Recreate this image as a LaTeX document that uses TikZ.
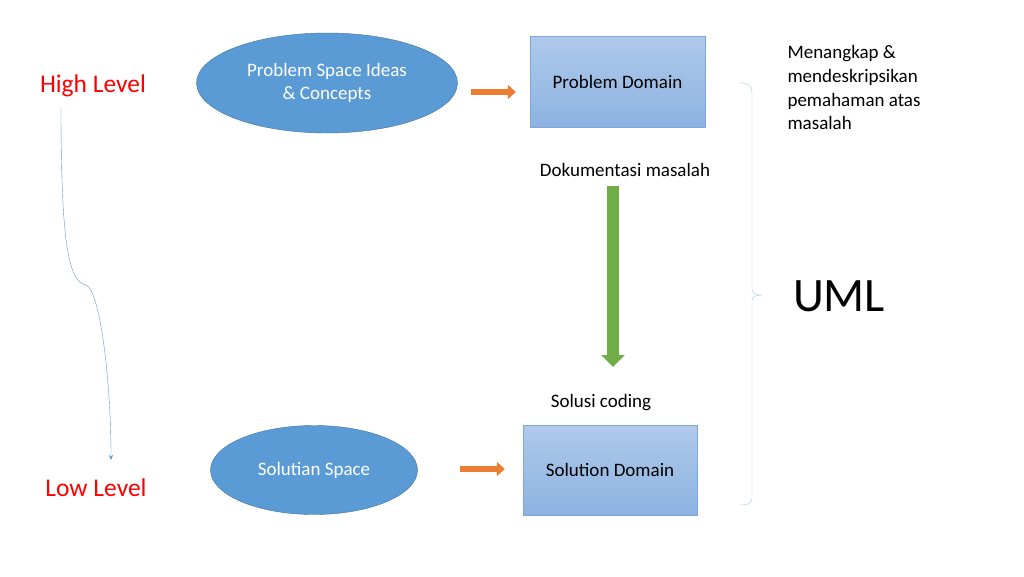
\documentclass[tikz,border=0pt]{standalone}
\usepackage{fontspec}
\setmainfont{Carlito}
\usetikzlibrary{arrows.meta,shapes.geometric}
\definecolor{ellfill}{HTML}{5B9BD5}
\definecolor{elldraw}{HTML}{41719C}
\definecolor{boxtop}{HTML}{AFC9EA}
\definecolor{boxbot}{HTML}{8DB3E2}
\definecolor{boxdraw}{HTML}{7EA6D8}
\definecolor{orangearr}{HTML}{ED7D31}
\definecolor{greenarr}{HTML}{70AD47}
\definecolor{bracecol}{HTML}{A9C7E8}
\definecolor{curvecol}{HTML}{5B9BD5}
\tikzset{
  spaceell/.style={ellipse, draw=elldraw, fill=ellfill, text=white, inner sep=0pt, font=\fontsize{19}{23}\selectfont, align=center},
  domainbox/.style={rectangle, draw=boxdraw, top color=boxtop, bottom color=boxbot, inner sep=0pt, font=\fontsize{19}{23}\selectfont},
  plaintext/.style={font=\fontsize{19}{23}\selectfont, align=left},
  leveltext/.style={text=red, font=\fontsize{25.5}{30}\selectfont},
  orangefat/.style={draw=orangearr, line width=6pt, -{Triangle[length=8pt,width=14pt]}},
  greenfat/.style={draw=greenarr, line width=12pt, -{Triangle[length=12pt,width=23pt]}}
}
\begin{document}
\begin{tikzpicture}[x=1pt,y=-1pt]
        \useasboundingbox (0,0) rectangle (1024,576);
        % left side
        \node[leveltext] (high) at (93,86) {High Level};
        \node[leveltext] (low) at (96,488) {Low Level};
        \coordinate (curveTop) at (61,107);
        \coordinate (curveEnd) at (111,460);
        \draw[curvecol, thin, -{Stealth[length=5pt,width=4pt]}] (curveTop) .. controls (61,240) and (68,282) .. (86,285) .. controls (100,290) and (111,380) .. (curveEnd);
        % problem row
        \node[spaceell, minimum width=261pt, minimum height=100pt] (probSpace) at (327,83) {Problem Space Ideas\\\& Concepts};
        \node[domainbox, minimum width=175pt, minimum height=91pt] (probDomain) at (617.5,81.5) {Problem Domain};
        \draw[orangefat, shorten <=13pt, shorten >=14pt] ([yshift=-9pt]probSpace.east) -- ([yshift=-10.5pt]probDomain.west);
        % solution row
        \node[spaceell, minimum width=207pt, minimum height=89pt] (solSpace) at (314,470) {Solutian Space};
        \node[domainbox, minimum width=174pt, minimum height=90pt] (solDomain) at (610,470) {Solution Domain};
        \draw[orangefat, shorten <=42pt, shorten >=18pt] ([yshift=1pt]solSpace.east) -- ([yshift=1pt]solDomain.west);
        % middle labels and green arrow
        \node[plaintext] (docText) at (625,170) {Dokumentasi masalah};
        \node[plaintext] (codText) at (601,403) {Solusi coding};
        \coordinate (greenTop) at (613,186);
        \coordinate (greenEnd) at (613,367);
        \draw[greenfat] (greenTop) -- (greenEnd);
        % brace and UML
        \draw[bracecol, thin] (740,83) .. controls (748,83) and (752,86) .. (752,92) -- (752,289) .. controls (752,293) and (755,295) .. (762,295) .. controls (755,295) and (752,297) .. (752,301) -- (752,498) .. controls (752,503) and (748,505) .. (740,505);
        \node[plaintext, anchor=north west, font=\fontsize{19}{23.7}\selectfont] (noteText) at (784,42) {Menangkap \&\\mendeskripsikan\\pemahaman atas\\masalah};
        \node[font=\fontsize{48}{56}\selectfont] (umlText) at (839,296) {UML};
\end{tikzpicture}
\end{document}
